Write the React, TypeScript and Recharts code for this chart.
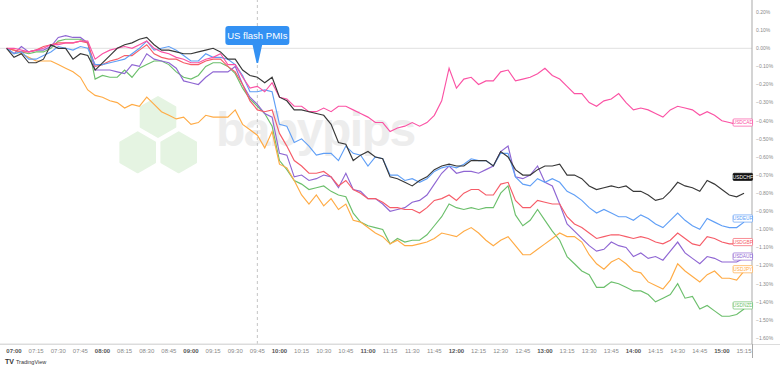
import React from "react";
import {
  LineChart,
  Line,
  XAxis,
  YAxis,
  ReferenceLine,
  ReferenceDot,
} from "recharts";

// % change vs 06:55, 5-minute bars, 06:55 .. 15:15
const usdcad = [
  0.0, -0.0, -0.01, -0.02, -0.01, 0.0, 0.02, 0.02, 0.03, 0.03,
  0.04, 0.04, -0.06, -0.03, -0.01, -0.0, 0.01, 0.0, 0.02, 0.04,
  -0.0, -0.02, -0.03, -0.05, -0.06, -0.08, -0.08, -0.06, -0.05, -0.03,
  -0.09, -0.09, -0.16, -0.22, -0.21, -0.24, -0.19, -0.27, -0.28, -0.32,
  -0.32, -0.35, -0.35, -0.33, -0.35, -0.32, -0.32, -0.34, -0.36, -0.38,
  -0.41, -0.41, -0.46, -0.44, -0.43, -0.41, -0.43, -0.41, -0.37, -0.29,
  -0.11, -0.22, -0.17, -0.16, -0.2, -0.18, -0.18, -0.13, -0.12, -0.18,
  -0.17, -0.16, -0.14, -0.11, -0.15, -0.17, -0.21, -0.25, -0.25, -0.3,
  -0.32, -0.29, -0.28, -0.25, -0.3, -0.34, -0.33, -0.34, -0.36, -0.38,
  -0.34, -0.32, -0.33, -0.34, -0.37, -0.35, -0.37, -0.4, -0.41, -0.42,
  -0.42,
];
const usdchf = [
  0.0, -0.05, -0.03, -0.08, -0.08, -0.06, 0.02, 0.0, 0.0, -0.06,
  -0.03, -0.04, -0.12, -0.08, -0.04, 0.0, 0.02, 0.03, 0.05, 0.06,
  0.02, -0.01, -0.01, -0.02, -0.03, -0.03, -0.02, -0.01, 0.0, -0.02,
  -0.06, -0.06, -0.12, -0.15, -0.16, -0.19, -0.16, -0.27, -0.29, -0.34,
  -0.34, -0.35, -0.36, -0.37, -0.42, -0.52, -0.53, -0.62, -0.59, -0.57,
  -0.6, -0.61, -0.71, -0.72, -0.74, -0.76, -0.73, -0.71, -0.67, -0.65,
  -0.64, -0.65, -0.65, -0.62, -0.62, -0.62, -0.65, -0.57, -0.6, -0.67,
  -0.7, -0.7, -0.67, -0.65, -0.65, -0.64, -0.7, -0.7, -0.72, -0.76,
  -0.78, -0.77, -0.76, -0.77, -0.76, -0.79, -0.79, -0.81, -0.84, -0.83,
  -0.79, -0.74, -0.76, -0.77, -0.79, -0.73, -0.75, -0.78, -0.81, -0.82,
  -0.8,
];
const usdeur = [
  0.0, -0.03, -0.02, -0.06, -0.06, -0.04, -0.02, 0.01, 0.0, -0.01,
  0.01, 0.0, -0.09, -0.09, -0.08, -0.07, -0.06, -0.03, 0.0, 0.04,
  -0.01, 0.0, 0.01, -0.01, -0.04, -0.07, -0.07, -0.03, -0.05, -0.05,
  -0.06, -0.09, -0.15, -0.24, -0.24, -0.23, -0.24, -0.42, -0.43, -0.52,
  -0.5, -0.54, -0.59, -0.58, -0.58, -0.62, -0.54, -0.58, -0.59, -0.65,
  -0.6, -0.61, -0.7, -0.7, -0.73, -0.72, -0.74, -0.72, -0.68, -0.66,
  -0.65, -0.66, -0.64, -0.61, -0.62, -0.62, -0.65, -0.58, -0.58, -0.71,
  -0.75, -0.76, -0.72, -0.74, -0.72, -0.74, -0.79, -0.81, -0.84, -0.88,
  -0.91, -0.89, -0.91, -0.93, -0.93, -0.95, -0.92, -0.94, -0.97, -0.99,
  -0.95, -0.91, -0.95, -0.98, -1.0, -0.94, -0.96, -0.98, -0.99, -0.99,
  -0.96,
];
const usdgbp = [
  0.0, -0.01, -0.02, -0.02, -0.01, 0.01, 0.02, 0.03, 0.03, 0.03,
  0.04, 0.03, -0.1, -0.09, -0.07, -0.06, -0.04, -0.04, -0.01, 0.02,
  -0.03, -0.05, -0.06, -0.06, -0.08, -0.09, -0.09, -0.07, -0.06, -0.06,
  -0.1, -0.13, -0.2, -0.29, -0.34, -0.35, -0.34, -0.47, -0.54, -0.62,
  -0.65, -0.69, -0.69, -0.68, -0.71, -0.76, -0.73, -0.78, -0.8, -0.83,
  -0.83, -0.85, -0.88, -0.88, -0.89, -0.89, -0.91, -0.88, -0.84, -0.83,
  -0.81, -0.84, -0.8, -0.78, -0.78, -0.81, -0.81, -0.75, -0.74, -0.84,
  -0.88, -0.88, -0.84, -0.85, -0.86, -0.86, -0.93, -0.97, -0.99, -1.02,
  -1.05, -1.04, -1.03, -1.03, -1.04, -1.05, -1.04, -1.05, -1.07, -1.08,
  -1.06, -1.02, -1.05, -1.08, -1.09, -1.04, -1.05, -1.07, -1.08, -1.08,
  -1.07,
];
const usdaud = [
  0.0, -0.03, 0.01, -0.02, -0.01, -0.01, 0.01, 0.06, 0.07, 0.06,
  0.06, 0.03, -0.12, -0.12, -0.12, -0.13, -0.14, -0.09, -0.1, -0.03,
  -0.06, -0.07, -0.08, -0.11, -0.18, -0.19, -0.2, -0.16, -0.13, -0.13,
  -0.13, -0.1, -0.2, -0.27, -0.31, -0.36, -0.38, -0.58, -0.59, -0.71,
  -0.7, -0.73, -0.72, -0.7, -0.71, -0.77, -0.69, -0.78, -0.79, -0.83,
  -0.83, -0.86, -0.9, -0.89, -0.88, -0.85, -0.84, -0.81, -0.75, -0.69,
  -0.65, -0.69, -0.68, -0.68, -0.69, -0.67, -0.65, -0.57, -0.54, -0.71,
  -0.72, -0.7, -0.65, -0.74, -0.76, -0.86, -0.97, -1.01, -1.05, -1.09,
  -1.12, -1.11, -1.07, -1.09, -1.1, -1.15, -1.13, -1.16, -1.15, -1.17,
  -1.12, -1.07, -1.13, -1.16, -1.19, -1.15, -1.16, -1.18, -1.18, -1.18,
  -1.16,
];
const usdjpy = [
  0.0, -0.01, -0.03, -0.05, -0.07, -0.07, -0.07, -0.09, -0.11, -0.13,
  -0.16, -0.23, -0.26, -0.27, -0.29, -0.3, -0.33, -0.31, -0.32, -0.27,
  -0.31, -0.35, -0.37, -0.39, -0.38, -0.42, -0.41, -0.37, -0.38, -0.38,
  -0.38, -0.34, -0.42, -0.45, -0.48, -0.55, -0.46, -0.64, -0.66, -0.73,
  -0.81, -0.86, -0.81, -0.87, -0.83, -0.89, -0.86, -0.95, -0.96, -0.99,
  -1.02, -1.04, -1.08, -1.06, -1.09, -1.09, -1.08, -1.07, -1.05, -1.02,
  -1.03, -1.04, -1.01, -0.99, -1.02, -1.06, -1.09, -1.06, -1.04, -1.09,
  -1.14, -1.14, -1.11, -1.08, -1.05, -1.02, -1.04, -1.04, -1.07, -1.14,
  -1.19, -1.22, -1.18, -1.16, -1.19, -1.23, -1.24, -1.29, -1.31, -1.33,
  -1.28, -1.19, -1.23, -1.26, -1.29, -1.25, -1.23, -1.27, -1.27, -1.28,
  -1.23,
];
const usdnzd = [
  0.0, -0.03, -0.02, -0.03, -0.02, -0.02, 0.0, 0.04, 0.05, 0.05,
  0.05, 0.03, -0.17, -0.15, -0.16, -0.16, -0.12, -0.16, -0.11, -0.09,
  -0.07, -0.07, -0.09, -0.13, -0.16, -0.17, -0.15, -0.1, -0.08, -0.08,
  -0.1, -0.14, -0.22, -0.28, -0.32, -0.36, -0.43, -0.62, -0.67, -0.73,
  -0.75, -0.78, -0.77, -0.76, -0.79, -0.81, -0.82, -0.91, -0.96, -0.98,
  -0.99, -1.0, -1.08, -1.05, -1.07, -1.06, -1.06, -1.03, -0.98, -0.93,
  -0.86, -0.88, -0.89, -0.88, -0.89, -0.88, -0.88, -0.8, -0.76, -0.92,
  -0.98, -0.95, -0.89, -0.95, -1.01, -1.06, -1.15, -1.19, -1.23, -1.25,
  -1.32, -1.32, -1.29, -1.3, -1.32, -1.34, -1.34, -1.36, -1.4, -1.38,
  -1.36, -1.3, -1.38, -1.37, -1.44, -1.42, -1.45, -1.48, -1.48, -1.47,
  -1.44,
];

// last-value tags on the price scale
const tagNames = ["USDCAD", "USDCHF", "USDEUR", "USDGBP", "USDAUD", "USDJPY", "USDNZD"];
const tagValues = [-0.41, -0.71, -0.94, -1.07, -1.15, -1.22, -1.42];

const timeLabels = [
  "07:00", "07:15", "07:30", "07:45", "08:00", "08:15", "08:30", "08:45",
  "09:00", "09:15", "09:30", "09:45", "10:00", "10:15", "10:30", "10:45",
  "11:00", "11:15", "11:30", "11:45", "12:00", "12:15", "12:30", "12:45",
  "13:00", "13:15", "13:30", "13:45", "14:00", "14:15", "14:30", "14:45",
  "15:00", "15:15",
];
const priceTicks = [
  0.2, 0.1, 0, -0.1, -0.2, -0.3, -0.4, -0.5, -0.6, -0.7, -0.8, -0.9, -1.0,
  -1.1, -1.2, -1.3, -1.4, -1.5, -1.6,
];
const eventTime = "09:45";
const eventText = "US flash PMIs";

const FIRST_BAR = 415; // 06:55
const BAR_MIN = 5;

const toMin = (s: string) => {
  const [h, m] = s.split(":").map(Number);
  return h * 60 + m;
};
const fmtTime = (t: number) =>
  `${String(Math.floor(t / 60)).padStart(2, "0")}:${String(t % 60).padStart(2, "0")}`;
const fmtPct = (v: number) =>
  (v < -0.0001 ? "\u2212" : "") + Math.abs(v).toFixed(2) + "%";

const series = [
  { key: "usdnzd", data: usdnzd, color: "#6cbf6c" },
  { key: "usdjpy", data: usdjpy, color: "#ffab45" },
  { key: "usdaud", data: usdaud, color: "#8f66d3" },
  { key: "usdgbp", data: usdgbp, color: "#f65c68" },
  { key: "usdeur", data: usdeur, color: "#609ff6" },
  { key: "usdcad", data: usdcad, color: "#fb52a4" },
  { key: "usdchf", data: usdchf, color: "#383838" },
];

const rows = usdcad.map((_, i) => {
  const r: any = { t: FIRST_BAR + BAR_MIN * i };
  series.forEach((s) => (r[s.key] = s.data[i]));
  return r;
});

const tagColor: Record<string, string> = {
  USDCAD: "#fb52a4",
  USDCHF: "#111111",
  USDEUR: "#609ff6",
  USDGBP: "#f65c68",
  USDAUD: "#8f66d3",
  USDJPY: "#ffab45",
  USDNZD: "#6cbf6c",
};

const FONT = "'Liberation Sans', Arial, sans-serif";

const TimeTick = ({ x, y, payload }: any) => {
  const hour = payload.value % 60 === 0;
  return (
    <text
      x={x}
      y={y + 9}
      textAnchor="middle"
      fontSize={6}
      fontFamily={FONT}
      fill={hour ? "#555" : "#8a8a8a"}
      fontWeight={hour ? 700 : 400}
    >
      {fmtTime(payload.value)}
    </text>
  );
};

const PriceTick = ({ x, y, payload }: any) => (
  <text x={x} y={y + 1.8} textAnchor="start" fontSize={5} fontFamily={FONT} fill="#8a8a8a">
    {fmtPct(payload.value)}
  </text>
);

const Callout = ({ viewBox }: any) => {
  const cx = viewBox ? viewBox.x : 0;
  return (
    <g>
      <rect x={cx - 32} y={26} width={64} height={19} rx={3} fill="#3391f3" />
      <path d={`M${cx - 5},44 L${cx + 5},44 L${cx + 0.8},63 L${cx - 0.8},63 Z`} fill="#3391f3" />
      <text
        x={cx}
        y={39}
        textAnchor="middle"
        fontSize={9.5}
        fontFamily={FONT}
        fill="#ffffff"
      >
        {eventText}
      </text>
    </g>
  );
};

const Tag = ({ cx, cy, name }: any) => {
  const dark = name === "USDCHF";
  const c = tagColor[name];
  return (
    <g>
      <rect
        x={cx - 11}
        y={cy - 3.6}
        width={19.5}
        height={7.2}
        rx={1}
        fill={dark ? "#111" : "#ffffff"}
        stroke={c}
        strokeWidth={0.7}
      />
      <text
        x={cx - 1.2}
        y={cy + 1.8}
        textAnchor="middle"
        fontSize={4.8}
        fontFamily={FONT}
        fill={dark ? "#ffffff" : c}
      >
        {name}
      </text>
    </g>
  );
};

const hex = (cx: number, cy: number, r: number) =>
  [0, 1, 2, 3, 4, 5]
    .map((k) => {
      const a = (Math.PI / 3) * k - Math.PI / 2;
      return `${cx + r * Math.cos(a)},${cy + r * Math.sin(a)}`;
    })
    .join(" ");

const Watermark = () => (
  <svg width={780} height={370} style={{ position: "absolute", left: 0, top: 0 }}>
    <g fill="#e5f4e2" stroke="#e5f4e2" strokeWidth={2} strokeLinejoin="round">
      <polygon points={hex(158, 117, 20)} />
      <polygon points={hex(137.7, 152.3, 20)} />
      <polygon points={hex(178.7, 152.3, 20)} />
    </g>
    <text
      x={216}
      y={146}
      fontSize={48}
      fontWeight={700}
      fontFamily={FONT}
      letterSpacing={-1.5}
      fill="#ededed"
    >
      babypips
    </text>
  </svg>
);

export default function App() {
  const xMin = 410.5;
  const xMax = 920.4;
  const lastT = rows[rows.length - 1].t;
  return (
    <div
      style={{
        position: "absolute",
        left: 0,
        top: 0,
        width: 780,
        height: 370,
        background: "#ffffff",
        overflow: "hidden",
      }}
    >
      <Watermark />
      <div style={{ position: "absolute", left: 0, top: 0 }}>
        <LineChart
          width={780}
          height={370}
          data={rows}
          margin={{ top: 0, right: 0, bottom: 0, left: 0 }}
        >
          <XAxis
            dataKey="t"
            type="number"
            domain={[xMin, xMax]}
            allowDataOverflow
            ticks={timeLabels.map(toMin)}
            tick={<TimeTick />}
            tickLine={false}
            tickSize={0}
            tickMargin={0}
            height={26}
            interval={0}
            axisLine={{ stroke: "#dcdcdc" }}
          />
          <YAxis
            orientation="right"
            type="number"
            domain={[-1.633, 0.2668]}
            allowDataOverflow
            ticks={priceTicks}
            tick={<PriceTick />}
            tickLine={false}
            tickSize={0}
            tickMargin={4}
            width={28}
            interval={0}
            axisLine={{ stroke: "#a9a9a9" }}
          />
          <ReferenceLine y={0} stroke="#e0e0e0" strokeWidth={1} />
          <ReferenceLine
            x={toMin(eventTime)}
            stroke="#c4c4c4"
            strokeDasharray="3 3"
            label={<Callout />}
          />
          {series.map((s) => (
            <Line
              key={s.key}
              type="linear"
              dataKey={s.key}
              stroke={s.color}
              strokeWidth={1.15}
              dot={false}
              activeDot={false}
              isAnimationActive={false}
            />
          ))}
          {tagNames.map((n, i) => (
            <ReferenceDot
              key={n}
              x={lastT}
              y={tagValues[i]}
              r={3}
              ifOverflow="visible"
              shape={(p: any) => <Tag {...p} name={n} />}
            />
          ))}
        </LineChart>
      </div>
      <div
        style={{
          position: "absolute",
          left: 0,
          top: 344,
          width: 780,
          height: 1,
          background: "#dcdcdc",
        }}
      />
      <div
        style={{
          position: "absolute",
          left: 752,
          top: 344,
          width: 1,
          height: 14,
          background: "#a9a9a9",
        }}
      />
      <div
        style={{
          position: "absolute",
          left: 5,
          top: 358,
          fontFamily: FONT,
          fontSize: 5.5,
          color: "#333",
          whiteSpace: "nowrap",
        }}
      >
        <span style={{ fontWeight: 900, fontSize: 7, marginRight: 2 }}>TV</span>
        TradingView
      </div>
    </div>
  );
}
